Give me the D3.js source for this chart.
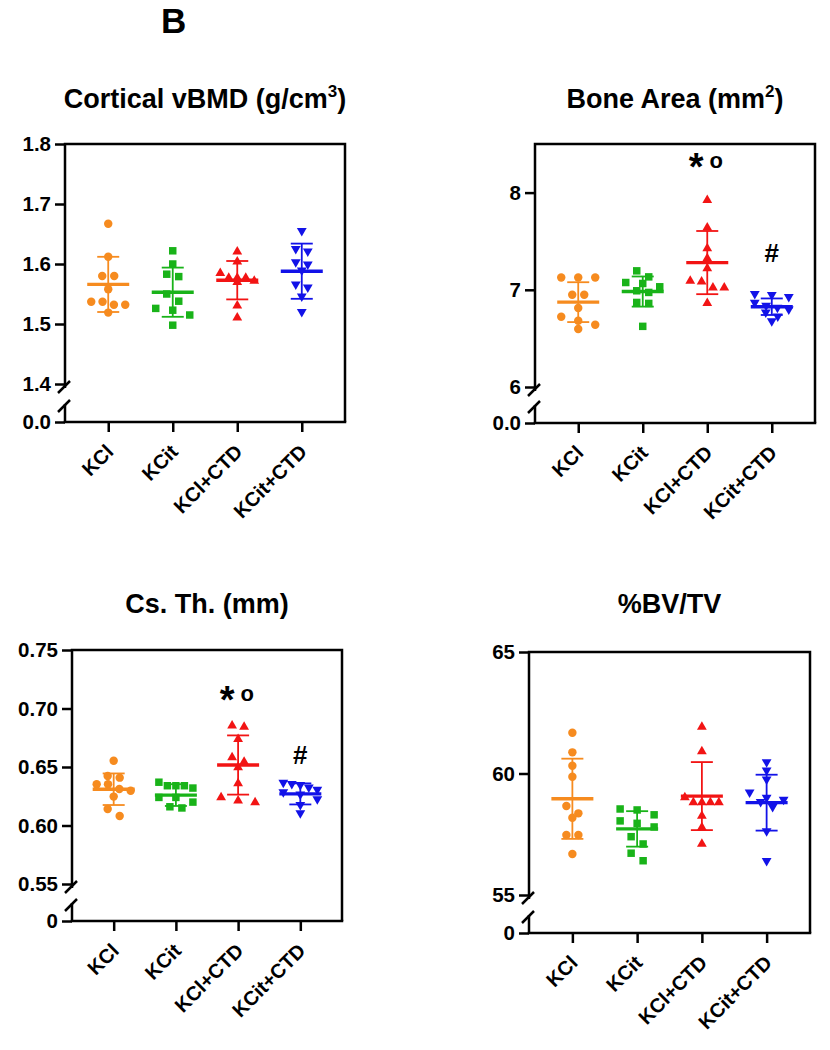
<!DOCTYPE html>
<html><head><meta charset="utf-8">
<script src="https://cdn.jsdelivr.net/npm/d3@7"></script>
<style>
body{margin:0;background:#fff}
text{font-family:"Liberation Sans",Arial,Helvetica,sans-serif;font-weight:bold;fill:#000}
</style>
</head><body>
<svg id="c" width="830" height="1050"></svg>
<script>
// ---------------- DATA ----------------
const groups = ["KCl","KCit","KCl+CTD","KCit+CTD"];
const colors = ["#f68b1f","#19b319","#f21414","#1212e8"];
const shapes = ["circle","square","triangle","triangleDown"];

// Cortical vBMD (g/cm3)
const vbmd_KCl    = [1.667,1.612,1.580,1.580,1.558,1.537,1.537,1.532,1.532,1.519];
const vbmd_KCit   = [1.622,1.600,1.583,1.579,1.550,1.538,1.526,1.523,1.515,1.498];
const vbmd_KClCTD = [1.622,1.605,1.586,1.578,1.578,1.578,1.573,1.571,1.532,1.512];
const vbmd_KCitCTD= [1.654,1.624,1.620,1.602,1.598,1.588,1.565,1.560,1.545,1.519];
const vbmd_mean = [1.566,1.553,1.573,1.588];
const vbmd_sd   = [0.046,0.041,0.032,0.046];
const vbmd_ticks = [1.4,1.5,1.6,1.7,1.8];

// Bone Area (mm2)
const area_KCl    = [7.126,7.126,7.126,6.949,6.949,6.812,6.723,6.682,6.641,6.597];
const area_KCit   = [7.195,7.133,7.075,7.065,7.031,6.990,6.973,6.870,6.860,6.624];
const area_KClCTD = [7.930,7.646,7.434,7.331,7.229,7.099,7.092,7.031,7.031,6.870];
const area_KCitCTD= [6.95,6.94,6.92,6.86,6.83,6.81,6.79,6.76,6.72,6.67];
const area_mean = [6.873,6.982,7.280,6.826];
const area_sd   = [0.205,0.155,0.325,0.085];
const area_ticks = [6,7,8];

// Cs. Th. (mm)
const thick_KCl    = [0.6554,0.6423,0.6409,0.6352,0.6352,0.6312,0.6297,0.6247,0.6141,0.6081];
const thick_KCit   = [0.637,0.634,0.634,0.634,0.632,0.624,0.624,0.620,0.616,0.615];
const thick_KClCTD = [0.686,0.685,0.6745,0.6588,0.6551,0.6503,0.6366,0.6247,0.6218,0.6204];
const thick_KCitCTD= [0.636,0.635,0.634,0.632,0.630,0.628,0.626,0.622,0.617,0.610];
const thick_mean = [0.631,0.626,0.6517,0.627];
const thick_sd   = [0.0135,0.0093,0.0253,0.009];
const thick_ticks = [0.55,0.60,0.65,0.70,0.75];

// %BV/TV
const bvtv_KCl    = [61.68,60.87,60.32,59.87,58.66,58.36,58.18,57.47,57.47,56.69];
const bvtv_KCit   = [58.54,58.50,58.30,58.05,57.95,57.80,57.40,57.10,56.72,56.41];
const bvtv_KClCTD = [61.95,60.94,59.05,58.84,58.84,58.84,58.84,58.29,57.81,57.13];
const bvtv_KCitCTD= [60.44,60.10,59.73,59.19,58.98,58.90,58.80,58.60,57.60,56.37];
const bvtv_mean = [58.96,57.72,59.07,58.80];
const bvtv_sd   = [1.65,0.73,1.40,1.15];
const bvtv_ticks = [55,60,65];

// significance marks: [group index, text, baseline value]
const area_marks  = [[2,"*o",8.251],[3,"#",7.287]];
const thick_marks = [[2,"*o",0.7064],[3,"#",0.6526]];

// ---------------- DRAW ----------------
const svg = d3.select("#c");

svg.append("text").attr("x",161).attr("y",33).style("font-size","35px").text("B");

function markerPath(shape){
  if(shape==="circle") return d3.symbol(d3.symbolCircle, 56)();
  if(shape==="square") return d3.symbol(d3.symbolSquare, 56)();
  if(shape==="triangle") return "M0,-4.9L4.9,3.6L-4.9,3.6Z";
  return "M0,4.9L4.9,-3.6L-4.9,-3.6Z";
}

function spread(vals, y, thr){
  const s = vals.map(v=>({v, py:y(v)})).sort((a,b)=>a.py-b.py);
  const rows=[];
  s.forEach(p=>{
    const r = rows[rows.length-1];
    if(r && p.py - r[0].py < thr) r.push(p); else rows.push([p]);
  });
  rows.forEach(r=>{
    const n=r.length, sp = n>=3 ? 34/(n-1) : 12;
    r.forEach((p,i)=>p.dx=(i-(n-1)/2)*sp);
  });
  return s;
}

function drawPanel(p){
  const g = svg.append("g");
  const x = d3.scalePoint().domain(groups).range([p.left,p.right]).padding(0.67);
  const y = d3.scaleLinear().domain([p.ticks[0], p.max]).range([p.minPx, p.top]);
  const y0 = p.zeroPx;

  // title
  const t = g.append("text").attr("x",(p.left+p.right)/2).attr("y",p.titleY)
    .attr("text-anchor","middle").style("font-size","27px");
  t.append("tspan").text(p.title[0]);
  if(p.title[1]){
    t.append("tspan").attr("dy",-11).style("font-size","17px").text(p.title[1]);
    t.append("tspan").attr("dy",11).text(p.title[2]);
  }

  // y axis (upper part)
  const ay = g.append("g").attr("transform",`translate(${p.left},0)`)
    .call(d3.axisLeft(y).tickValues(p.ticks).tickFormat(p.fmt).tickSize(10).tickPadding(4));
  ay.select(".domain").remove();
  // zero tick
  const yz = d3.scaleLinear().domain([0,1]).range([y0,y0-100]);
  const az = g.append("g").attr("transform",`translate(${p.left},0)`)
    .call(d3.axisLeft(yz).tickValues([0]).tickFormat(()=>p.zeroLabel).tickSize(10).tickPadding(4));
  az.select(".domain").remove();
  [ay,az].forEach(a=>{
    a.selectAll("line").attr("stroke","#000").attr("stroke-width",2.5);
    a.selectAll("text").style("font-size","20.5px").attr("font-family",null).attr("fill","#000");
  });

  // x axis
  const ax = g.append("g").attr("transform",`translate(0,${y0})`)
    .call(d3.axisBottom(x).tickSize(10));
  ax.select(".domain").remove();
  ax.selectAll("line").attr("stroke","#000").attr("stroke-width",2.5);
  ax.selectAll("text").style("font-size","20px").attr("font-family",null)
    .attr("text-anchor","end").attr("x",0).attr("y",0).attr("dy",0)
    .attr("transform","translate(6,31) rotate(-45)");

  // frame and broken axis
  const L=p.left, R=p.right;
  const line = (d)=>g.append("path").attr("d",d).attr("fill","none").attr("stroke","#000").attr("stroke-width",2.5);
  line(`M${L},${p.minPx+4}V${p.top}H${R}V${y0}`);
  line(`M${L-1.25},${y0}H${R+1.25}`);
  line(`M${L},${y0}V${y0-18}`);
  const b1 = p.minPx+2, b2 = y0-17;
  line(`M${L-7},${b1+7}L${L+5},${b1-5}`);
  line(`M${L-7},${b2+7}L${L+5},${b2-5}`);

  // points, means, error bars
  p.series.forEach((vals,i)=>{
    const cx = x(groups[i]);
    const pts = spread(vals, y, 8);
    g.append("g").selectAll("path").data(pts).join("path")
      .attr("d",markerPath(shapes[i]))
      .attr("transform",d=>`translate(${cx+d.dx},${d.py})`)
      .attr("fill",colors[i]);
    const m = p.mean[i], s = p.sd[i];
    const eg = g.append("g").attr("stroke",colors[i]).attr("fill","none");
    eg.append("line").attr("x1",cx).attr("x2",cx).attr("y1",y(m+s)).attr("y2",y(m-s)).attr("stroke-width",1.8);
    eg.append("line").attr("x1",cx-11).attr("x2",cx+11).attr("y1",y(m+s)).attr("y2",y(m+s)).attr("stroke-width",1.8);
    eg.append("line").attr("x1",cx-11).attr("x2",cx+11).attr("y1",y(m-s)).attr("y2",y(m-s)).attr("stroke-width",1.8);
    eg.append("line").attr("x1",cx-21).attr("x2",cx+21).attr("y1",y(m)).attr("y2",y(m)).attr("stroke-width",3.4);
  });

  // significance marks
  (p.marks||[]).forEach(([gi,txt,val])=>{
    const cx = x(groups[gi]), by = y(val);
    if(txt==="*o"){
      g.append("text").attr("x",cx-11).attr("y",by+12).attr("text-anchor","middle").style("font-size","38px").text("*");
      g.append("text").attr("x",cx+9).attr("y",by).attr("text-anchor","middle").style("font-size","22px").text("o");
    } else {
      g.append("text").attr("x",cx).attr("y",by).attr("text-anchor","middle").style("font-size","26px").text(txt);
    }
  });
}

const f1 = d3.format(".1f"), f0 = d3.format("d"), f2 = d3.format(".2f");

drawPanel({left:65,right:345,top:144,minPx:384,zeroPx:422,max:1.8,titleY:108,
  title:["Cortical vBMD (g/cm","3",")"],ticks:vbmd_ticks,fmt:f1,zeroLabel:"0.0",
  series:[vbmd_KCl,vbmd_KCit,vbmd_KClCTD,vbmd_KCitCTD],mean:vbmd_mean,sd:vbmd_sd});

drawPanel({left:535,right:815,top:144,minPx:387,zeroPx:423,max:8.5,titleY:108,
  title:["Bone Area (mm","2",")"],ticks:area_ticks,fmt:f0,zeroLabel:"0.0",
  series:[area_KCl,area_KCit,area_KClCTD,area_KCitCTD],mean:area_mean,sd:area_sd,marks:area_marks});

drawPanel({left:72,right:342,top:650,minPx:884,zeroPx:921,max:0.75,titleY:613,
  title:["Cs. Th. (mm)"],ticks:thick_ticks,fmt:f2,zeroLabel:"0",
  series:[thick_KCl,thick_KCit,thick_KClCTD,thick_KCitCTD],mean:thick_mean,sd:thick_sd,marks:thick_marks});

drawPanel({left:529,right:810,top:652,minPx:895,zeroPx:933,max:65,titleY:613,
  title:["%BV/TV"],ticks:bvtv_ticks,fmt:f0,zeroLabel:"0",
  series:[bvtv_KCl,bvtv_KCit,bvtv_KClCTD,bvtv_KCitCTD],mean:bvtv_mean,sd:bvtv_sd});
</script>
</body></html>
